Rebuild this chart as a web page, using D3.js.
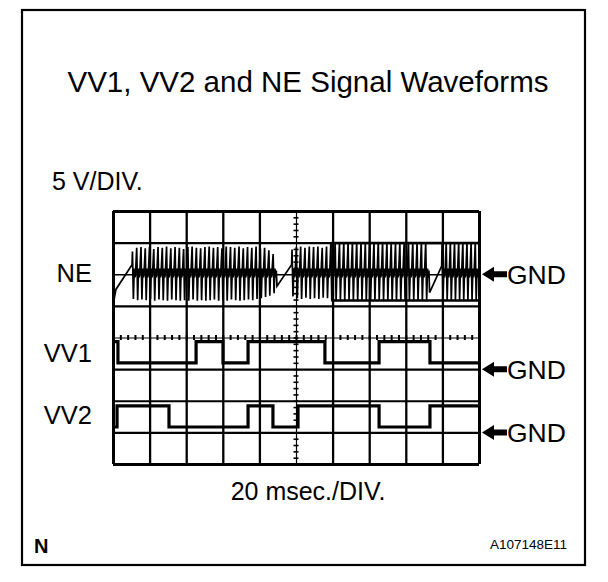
<!DOCTYPE html>
<html><head><meta charset="utf-8">
<script src="https://cdn.jsdelivr.net/npm/d3@7"></script>
<style>html,body{margin:0;padding:0;background:#fff}svg{display:block}</style>
</head><body>
<svg id="chart" width="608" height="582"></svg>
<script>
// ---------------- data ----------------
const titleText = "VV1, VV2 and NE Signal Waveforms";
const voltLabel = "5 V/DIV.";
const timeLabel = "20 msec./DIV.";
const cornerLabel = "N";
const codeLabel = "A107148E11";
const channelNames = ["NE", "VV1", "VV2"];
const gndOffsetDiv = [2, -1, -3];          // GND position of each channel (divisions from centre)
const voltsPerDiv = 5;
const msPerDiv = 20;
const timeTicks = [0, 20, 40, 60, 80, 100, 120, 140, 160, 180, 200];
const divTicks = [-4, -3, -2, -1, 0, 1, 2, 3, 4];

// VV1 / VV2 : switching times (ms) and level held after each time (V)
const vv1Times  = [0, 2.7, 45.4, 60.1, 73.8, 115.8, 145.4, 173.2, 200];
const vv1Levels = [4.35, 1.0, 4.35, 1.0, 4.35, 1.0, 4.35, 1.0, 1.0];
const vv2Times  = [0, 2.2, 30.6, 73.8, 87.4, 101.1, 145.4, 173.2, 200];
const vv2Levels = [0.85, 4.2, 0.85, 4.2, 0.85, 4.2, 0.85, 4.2, 4.2];

// NE : leading tooth, missing-tooth gaps (ms, V) and tooth peaks (V)
const neLead = [4.2, -4.0];
const neGapStart = [1.6, 89.6, 173.0];
const neGapEnd   = [10.4, 97.6, 179.6];
const neGapLow   = [-2.4, -1.9, -2.9];
const neGapHigh  = [1.5, 1.5, 1.3];
const neSegEnd   = [89.6, 173.0, 200];
const neTeethCount = [34, 32, 9];
const neHigh = [
  3.6,4.2,4.3,4.1,4.3,4.0,4.3,4.2,4.4,4.1,4.3,4.2,4.0,4.3,4.4,4.2,4.1,4.3,4.4,4.2,4.3,4.1,4.4,4.3,4.2,4.4,4.1,4.3,4.2,4.4,4.0,4.2,3.8,3.2,
  3.9,4.3,4.4,4.2,4.4,4.3,4.4,4.2,4.4,5.0,5.0,5.0,5.0,5.0,5.0,5.0,5.0,5.0,5.0,5.0,5.0,5.0,5.0,5.0,5.0,5.0,5.0,5.0,5.0,5.0,5.0,5.0,
  5.0,5.0,5.0,5.0,5.0,5.0,5.0,5.0,5.0
];
const neLow = [
  -3.9,-4.1,-4.0,-4.1,-3.9,-4.2,-4.0,-4.1,-4.2,-4.0,-4.1,-4.2,-4.1,-4.2,-4.0,-4.2,-4.1,-4.2,-4.1,-4.0,-4.2,-4.1,-4.2,-4.0,-4.1,-4.2,-4.1,-4.0,-4.1,-3.9,-3.8,-3.6,-3.4,-3.0,
  -3.5,-3.8,-3.9,-3.7,-3.9,-3.8,-3.9,-3.7,-3.8,-4.2,-4.2,-4.2,-4.2,-4.2,-4.2,-4.2,-4.2,-4.2,-4.2,-4.2,-4.2,-4.2,-4.2,-4.2,-4.2,-4.2,-4.2,-4.2,-4.2,-4.2,-4.2,-4.2,
  -4.2,-4.2,-4.2,-4.2,-4.2,-4.2,-4.2,-4.2,-4.2
];
const neClip = [120, 200, 4.95, -4.15];   // start ms, end ms, top V, bottom V

// ---------------- drawing ----------------
const svg = d3.select("#chart");
const font = "'Liberation Sans', Arial, sans-serif";
const gx0 = 113, gx1 = 479, gy0 = 211, gy1 = 464;
const x = d3.scaleLinear().domain([timeTicks[0], timeTicks[timeTicks.length-1]]).range([gx0, gx1]);
const y = d3.scaleLinear().domain([divTicks[0], divTicks[divTicks.length-1]]).range([gy1, gy0]);
const vy = (ch, v) => y(gndOffsetDiv[ch] + v / voltsPerDiv);

// outer frame
svg.append("rect").attr("x", 22).attr("y", 10).attr("width", 563).attr("height", 555)
  .attr("fill", "none").attr("stroke", "#000").attr("stroke-width", 2.2);

// title & labels
svg.append("text").attr("x", 308).attr("y", 92).attr("text-anchor", "middle")
  .attr("font-family", font).attr("font-size", 29.5).text(titleText);
svg.append("text").attr("x", 52).attr("y", 190)
  .attr("font-family", font).attr("font-size", 25).text(voltLabel);
svg.append("text").attr("x", 308).attr("y", 500).attr("text-anchor", "middle")
  .attr("font-family", font).attr("font-size", 25).text(timeLabel);
svg.append("text").attr("x", 34).attr("y", 553)
  .attr("font-family", font).attr("font-size", 20).attr("font-weight", "bold").text(cornerLabel);
svg.append("text").attr("x", 567).attr("y", 549).attr("text-anchor", "end")
  .attr("font-family", font).attr("font-size", 13.5).text(codeLabel);

// grid via axes
const gridG = svg.append("g");
const vAxis = d3.axisBottom(x).tickValues(timeTicks).tickSize(-(gy1 - gy0)).tickFormat("");
gridG.append("g").attr("transform", `translate(0,${gy1})`).call(vAxis)
  .call(g => g.select(".domain").remove())
  .call(g => g.selectAll("line").attr("stroke", "#000")
     .attr("stroke-width", d => (d === 100 ? 1.2 : (d === 0 || d === 200 ? 3 : 2.3))));
const hAxis = d3.axisLeft(y).tickValues(divTicks).tickSize(-(gx1 - gx0)).tickFormat("");
gridG.append("g").attr("transform", `translate(${gx0},0)`).call(hAxis)
  .call(g => g.select(".domain").remove())
  .call(g => g.selectAll("line").attr("stroke", "#000")
     .attr("stroke-width", d => (d === 0 ? 1.2 : (d === -4 || d === 4 ? 3 : (d === 2 ? 1.5 : 2.2)))));
gridG.selectAll("text").remove();

// minor ticks on the centre lines
const minorT = d3.range(0, 200.001, 4);
const minorD = d3.range(-4, 4.001, 0.2);
gridG.append("g").attr("transform", `translate(0,${y(0) + 2.5})`)
  .call(d3.axisBottom(x).tickValues(minorT).tickSize(-5).tickFormat(""))
  .call(g => g.select(".domain").remove())
  .call(g => g.selectAll("line").attr("stroke", "#000").attr("stroke-width", 2));
gridG.append("g").attr("transform", `translate(${x(100) + 2.5},0)`)
  .call(d3.axisLeft(y).tickValues(minorD).tickSize(5).tickFormat(""))
  .call(g => g.select(".domain").remove())
  .call(g => g.selectAll("line").attr("stroke", "#000").attr("stroke-width", 1.6));

// VV1 / VV2 traces
const stepLine = ch => d3.line().curve(d3.curveStepAfter)
  .x(d => x(d[0])).y(d => vy(ch, d[1]));
svg.append("path").datum(vv1Times.map((t, i) => [t, vv1Levels[i]]))
  .attr("d", stepLine(1)).attr("fill", "none").attr("stroke", "#000").attr("stroke-width", 3.2);
svg.append("path").datum(vv2Times.map((t, i) => [t, vv2Levels[i]]))
  .attr("d", stepLine(2)).attr("fill", "none").attr("stroke", "#000").attr("stroke-width", 3.2);

// NE trace
const nePts = [[0, neLead[0]], [0.6, neLead[1]]];
let tooth = 0;
neGapStart.forEach((gs, i) => {
  nePts.push([gs, neGapLow[i]]);
  nePts.push([neGapEnd[i], neGapHigh[i]]);
  const n = neTeethCount[i];
  const p = (neSegEnd[i] - neGapEnd[i]) / n;
  for (let k = 0; k < n; k++) {
    const t0 = neGapEnd[i] + k * p;
    const hi = neHigh[tooth], lo = neLow[tooth];
    nePts.push([t0 + 0.10 * p, hi]);
    nePts.push([t0 + 0.32 * p, lo]);
    nePts.push([t0 + 0.52 * p, 0.9]);
    nePts.push([t0 + 0.70 * p, -0.5]);
    nePts.push([t0 + 0.85 * p, 0.6]);
    tooth++;
  }
});
const neLine = d3.line().x(d => x(d[0])).y(d => vy(0, d[1]));
svg.append("path").datum(nePts).attr("d", neLine)
  .attr("fill", "none").attr("stroke", "#000").attr("stroke-width", 1.7);
svg.append("path")
  .datum([[neClip[1], neClip[2]], [neClip[0], neClip[2]], [neClip[0], neClip[3]], [neClip[1], neClip[3]]])
  .attr("d", neLine).attr("fill", "none").attr("stroke", "#000").attr("stroke-width", 2.6);

// channel labels + GND arrows
channelNames.forEach((name, i) => {
  const yg = vy(i, 0);
  svg.append("text").attr("x", 92).attr("y", i === 0 ? 282 : (i === 1 ? 362 : 424))
    .attr("text-anchor", "end").attr("font-family", font).attr("font-size", 25.5).text(name);
  svg.append("path")
    .attr("d", `M482,${yg} L494,${yg - 7.5} L494,${yg - 3} L507,${yg - 3} L507,${yg + 3} L494,${yg + 3} L494,${yg + 7.5} Z`)
    .attr("fill", "#000");
  svg.append("text").attr("x", 507).attr("y", yg + 9.5)
    .attr("font-family", font).attr("font-size", 26.5).text("GND");
});
</script>
</body></html>
